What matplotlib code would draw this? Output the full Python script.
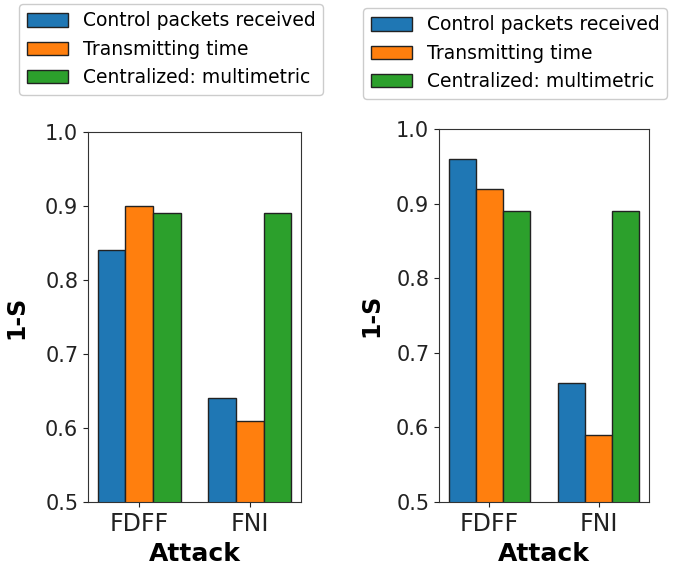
import matplotlib
matplotlib.use("Agg")
import matplotlib.pyplot as plt
import numpy as np

attacks = ["FDFF", "FNI"]
series_names = ["Control packets received", "Transmitting time", "Centralized: multimetric"]
left_values = {
    "Control packets received": [0.84, 0.64],
    "Transmitting time": [0.90, 0.61],
    "Centralized: multimetric": [0.89, 0.89],
}
right_values = {
    "Control packets received": [0.96, 0.66],
    "Transmitting time": [0.92, 0.59],
    "Centralized: multimetric": [0.89, 0.89],
}
colors = ["#1f77b4", "#ff7f0e", "#2ca02c"]
yticks = [0.5, 0.6, 0.7, 0.8, 0.9, 1.0]

W, H = 673, 568
fig = plt.figure(figsize=(W / 100, H / 100), dpi=100)

def px(l, r, t, b):
    return [l / W, 1 - b / H, (r - l) / W, (b - t) / H]

axes_rects = [px(88, 301, 132, 502), px(439, 649, 129, 502)]
legend_anchor = [(19 / W, 1 - 4 / H), (363 / W, 1 - 8 / H)]
ylabelpads = [12, 9]

x = np.arange(len(attacks))
width = 0.25
for rect, vals, anchor, lp in zip(axes_rects, [left_values, right_values], legend_anchor, ylabelpads):
    ax = fig.add_axes(rect)
    handles = []
    for i, name in enumerate(series_names):
        b = ax.bar(x + (i - 1) * width, vals[name], width, color=colors[i],
                   edgecolor="#222222", linewidth=1.0, label=name)
        handles.append(b)
    ax.set_ylim(0.5, 1.0)
    ax.set_yticks(yticks)
    ax.set_yticklabels([f"{v:.1f}" for v in yticks])
    ax.set_xticks(x)
    ax.set_xticklabels(attacks)
    ax.tick_params(axis="y", labelsize=15, colors="#222222")
    ax.tick_params(axis="x", labelsize=17, colors="#222222", pad=4)
    ax.set_xlabel("Attack", fontsize=18, fontweight="bold", labelpad=4)
    ax.set_ylabel("1-S", fontsize=17, fontweight="bold", labelpad=lp)
    for s in ax.spines.values():
        s.set_color("#333333")
    fig.legend(handles=handles, labels=series_names, loc="upper left",
               bbox_to_anchor=anchor, fontsize=13.5, borderaxespad=0,
               handlelength=2.2, framealpha=1)

fig.savefig("out.png", dpi=100)
